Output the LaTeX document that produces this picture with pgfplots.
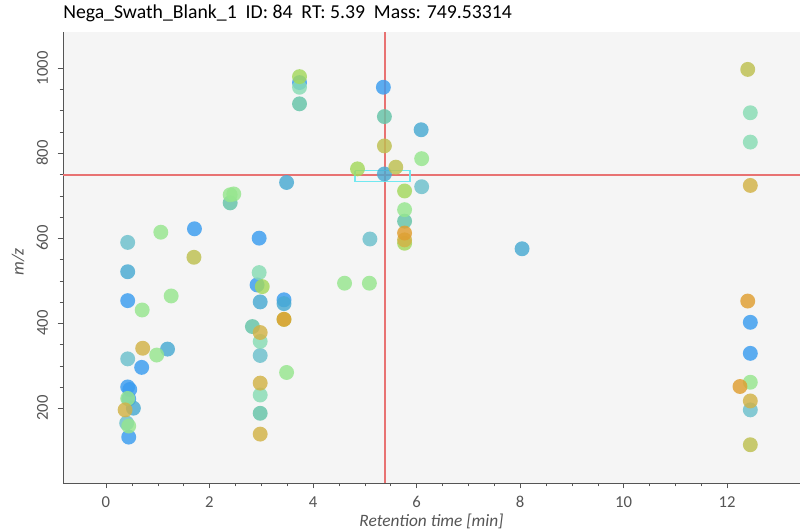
\documentclass[border=0pt]{standalone}
\usepackage{pgfplots}
\pgfplotsset{compat=1.18}
\usepackage{fontspec}
\setmainfont{Carlito}
\definecolor{bgc}{HTML}{F5F5F5}
\definecolor{cblue}{HTML}{3A9CF0}
\definecolor{ctealblue}{HTML}{48AAD2}
\definecolor{cteal}{HTML}{6CC0CC}
\definecolor{ctealgreen}{HTML}{64C4A8}
\definecolor{cmint}{HTML}{88DCB4}
\definecolor{clgreen}{HTML}{96E68E}
\definecolor{cygreen}{HTML}{A4D85C}
\definecolor{colive}{HTML}{BEC050}
\definecolor{cgold}{HTML}{D2B246}
\definecolor{corange}{HTML}{E09E30}
\definecolor{cred}{HTML}{E87272}
\definecolor{ccyan}{HTML}{72E8F0}
\definecolor{tickc}{HTML}{555555}
\pgfplotsset{pt/.style={only marks, mark=*, mark size=5.6pt, mark options={draw opacity=0, fill=#1, fill opacity=0.82}}}
\begin{document}
\begin{tikzpicture}
\useasboundingbox (-47.25pt,-36pt) rectangle (552.75pt,362.25pt);
\begin{axis}[
  at={(0,0)}, anchor=south west, scale only axis,
  width=552.75pt, height=338.25pt,
  xmin=-0.83, xmax=13.41, ymin=24, ymax=1085,
  axis lines=left, axis line style={-, tickc},
  axis background/.style={fill=bgc},
  xtick={0,2,...,12}, minor x tick num=3,
  ytick={200,400,...,1000}, minor y tick num=3,
  tick align=outside, major tick length=4pt, minor tick length=2.5pt,
  tick style={tickc},
  /pgf/number format/assume math mode=true,
  /pgf/number format/set thousands separator={},
  ticklabel style={font=\fontsize{12.5}{14}\selectfont, text=tickc},
  yticklabel style={rotate=90, anchor=south, inner sep=0pt, yshift=7pt},
  xticklabel style={inner sep=0pt, yshift=-6pt},
  xlabel={\textit{Retention time [min]}},
  ylabel={\textit{m/z}},
  label style={font=\fontsize{13}{15}\selectfont, text=tickc},
  xlabel style={at={(axis description cs:0.5,0)}, anchor=base, yshift=-32.5pt, inner sep=0pt},
  ylabel style={at={(axis description cs:-0.061,0.49)}, anchor=center},
  title={Nega\_Swath\_Blank\_1\ \ ID: 84\ \ RT: 5.39\ \ Mass: 749.53314},
  title style={at={(0,1)}, anchor=base west, yshift=3.75pt, inner sep=0pt, font=\fontsize{14.8}{16}\selectfont},
  clip=true,
]
% blue
\addplot[pt=cblue] coordinates {(1.71,622) (2.96,600) (0.42,453) (0.42,250) (0.46,244) (0.69,296) (2.92,490) (3.44,455) (5.36,955) (12.45,402) (12.45,329) (0.44,132) (0.44,222) (3.74,966)};
% teal blue
\addplot[pt=ctealblue] coordinates {(0.42,521) (1.19,339) (2.98,450) (3.44,446) (3.49,731) (5.38,751) (8.04,575) (6.09,855) (0.53,200)};
% teal
\addplot[pt=cteal] coordinates {(0.42,590) (0.42,316) (2.98,324) (5.10,598) (12.45,196) (0.40,165) (6.10,721)};
% teal green
\addplot[pt=ctealgreen] coordinates {(2.40,683) (3.74,916) (5.38,886) (5.77,640) (2.83,392) (2.98,188)};
% mint
\addplot[pt=cmint] coordinates {(2.96,519) (2.98,357) (2.98,231) (12.45,895) (12.45,826) (3.74,955)};
% light green
\addplot[pt=clgreen] coordinates {(1.06,614) (1.26,464) (0.70,431) (0.98,325) (3.49,284) (2.40,702) (2.47,704) (4.61,494) (5.09,494) (6.10,787) (0.42,223) (12.45,261) (0.44,158) (5.77,667)};
% yellow green
\addplot[pt=cygreen] coordinates {(3.02,486) (3.44,409) (3.74,980) (5.77,711) (4.86,763) (5.77,588)};
% olive
\addplot[pt=colive] coordinates {(1.70,555) (5.38,817) (5.60,767) (12.40,997) (12.45,114)};
% gold
\addplot[pt=cgold] coordinates {(0.71,341) (2.98,378) (2.98,259) (2.98,139) (12.45,724) (12.45,217) (0.37,196) (5.77,596)};
% orange
\addplot[pt=corange] coordinates {(3.44,409) (5.77,612) (12.40,452) (12.25,251)};
% crosshair
\addplot[draw=cred, line width=1.5pt, mark=none] coordinates {(5.39,24) (5.39,1085)};
\addplot[draw=cred, line width=1.5pt, mark=none] coordinates {(-0.83,749.53) (13.41,749.53)};
% selection box
\addplot[draw=ccyan, line width=1.3pt, mark=none] coordinates {(4.81,759) (5.87,759) (5.87,733) (4.81,733) (4.81,759)};
\end{axis}
\end{tikzpicture}
\end{document}
